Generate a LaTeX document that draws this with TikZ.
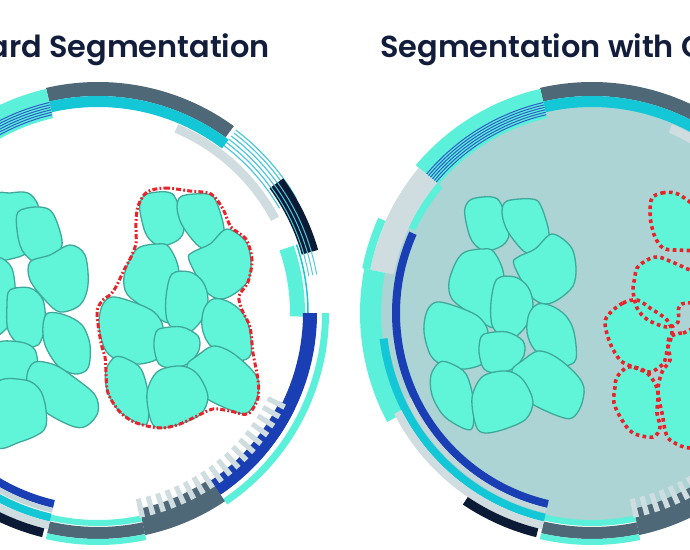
\documentclass[tikz,border=0pt]{standalone}
\usepackage{fontspec}
\setmainfont{Poppins}[BoldFont={Poppins SemiBold}]
\definecolor{navytext}{HTML}{111D3A}
\definecolor{slate}{HTML}{4E6877}
\definecolor{cyanb}{HTML}{14C7D7}
\definecolor{aqua}{HTML}{5AF0D9}
\definecolor{lgrey}{HTML}{CFDDE0}
\definecolor{lgreyb}{HTML}{C3D6D9}
\definecolor{blueb}{HTML}{1A3FB5}
\definecolor{lblue}{HTML}{2E5CC8}
\definecolor{navyb}{HTML}{0B1B36}
\definecolor{thincyan}{HTML}{50C8DC}
\definecolor{cellfill}{HTML}{60F5D8}
\definecolor{celledge}{HTML}{3EA99A}
\definecolor{disk}{HTML}{ACD4D4}
\definecolor{redl}{HTML}{E8232B}
\newcommand\rs[5]{\fill[#5] (#3:#2) arc[start angle=#3,end angle=#4,radius=#2] -- (#4:#1) arc[start angle=#4,end angle=#3,radius=#1] -- cycle;}
\newcommand\rl[4]{\draw[#4] (#2:#1) arc[start angle=#2,end angle=#3,radius=#1];}
\newcommand\ringpattern{%
  \rs{217}{231}{54}{103}{slate}
  \rs{206}{217}{53}{103}{cyanb}
  \rs{196}{205}{28}{67}{lgrey}
  \foreach \r in {209.5,213.5,217.5,221.5,225.5,229} {\rl{\r}{30}{53}{thincyan,line width=1.2bp}}
  \rs{212}{229}{16}{36}{navyb}
  \foreach \r in {214,218,222} {\rl{\r}{10}{36}{thincyan,line width=1bp}}
  \rs{192}{207}{-1}{19}{aqua}
  \rl{210}{-1}{19}{cyanb,line width=1.5bp}
  \rs{205}{219}{-56}{0}{blueb}
  \rs{202}{219}{-56}{-26}{blueb}
  \rs{224}{231}{-56}{0}{aqua}
  \rs{200}{227}{-78}{-56}{slate}
  \rs{214}{226}{-103}{-78}{slate}
  \rs{207}{213}{-103}{-78}{aqua}
  \rs{226}{232}{-103}{-78}{aqua}
  \foreach \i in {0,...,17}{\pgfmathsetmacro\ta{-26-3*\i}\pgfmathsetmacro\tb{-27.5-3*\i}\rs{190}{209}{\tb}{\ta}{lgrey}}
  \rs{200}{230}{103}{140}{aqua}
  \foreach \r in {203.5,206,208.5,211,213.5,216} {\rl{\r}{103}{140}{lblue,line width=1bp}}
  \rs{202}{226}{140}{169}{lgrey}
  \rs{195}{202}{140}{155}{aqua}
  \rs{226}{234}{156}{169}{aqua}
  \rs{211}{232}{169}{208}{aqua}
  \rs{192}{200}{156}{257}{blueb}
  \rs{206}{214}{187}{257}{cyanb}
  \rs{200}{205}{205}{257}{lgreyb}
  \rs{214}{222}{207}{257}{lgrey}
  \rs{222}{231}{236}{256}{navyb}
}
\tikzset{
  cell/.style={fill=cellfill,draw=celledge,line width=1.3bp,line join=round},
  rcell/.style={fill=cellfill},
  rdot/.style={draw=redl,line width=3.6bp,dash pattern=on 3.6bp off 3.4bp},
  rdash/.style={draw=redl,line width=3bp,dash pattern=on 5bp off 2.2bp on 1.8bp off 2.2bp},
  title/.style={anchor=base,inner sep=0pt,text=navytext,font=\fontsize{30.5}{36}\selectfont\bfseries}
}
\newcommand\sm{plot[smooth cycle,tension=0.55] coordinates}
\newcommand\clusterB{%
  \draw[cell] \sm{(147,194)(167,192)(176,199)(184,227)(178,240)(160,246)(147,236)(141,217)(140,203)};
  \draw[cell] \sm{(182,196)(207,194)(216,201)(224,230)(214,243)(202,248)(191,238)(181,223)(177,207)};
  \draw[cell] \sm{(140,247)(157,244)(169,247)(179,273)(171,318)(163,321)(146,309)(127,294)(124,277)(131,257)};
  \draw[cell] \sm{(193,252)(210,244)(227,229)(246,242)(251,263)(248,281)(234,294)(220,299)(206,291)(189,260)};
  \draw[cell] \sm{(172,274)(190,272)(203,282)(208,300)(201,321)(187,334)(176,331)(167,320)(166,297)};
  \draw[cell] \sm{(213,299)(227,301)(241,311)(249,327)(251,354)(240,361)(227,358)(209,344)(202,327)(204,309)};
  \draw[cell] \sm{(112,297)(133,302)(154,312)(163,327)(156,343)(158,358)(140,364)(120,361)(106,351)(99,327)(102,306)};
  \draw[cell] \sm{(163,328)(182,327)(198,336)(199,350)(189,363)(173,368)(159,364)(154,347)(156,332)};
  \draw[cell] \sm{(197,356)(213,346)(231,352)(251,369)(259,383)(256,401)(247,413)(233,411)(206,398)(191,380)(187,365)};
  \draw[cell] \sm{(115,357)(127,359)(141,369)(148,393)(148,421)(140,424)(119,411)(107,390)(106,370)};
  \draw[cell] \sm{(157,372)(177,366)(191,369)(201,379)(208,397)(201,414)(180,424)(160,428)(151,421)(147,393)};
}
\begin{document}
\begin{tikzpicture}[x=1bp,y=-1bp]
\useasboundingbox (0,0) rectangle (690,550);
\clip (0,0) rectangle (690,550);
\fill[white] (0,0) rectangle (690,550);
% titles
\node[title,anchor=base east] (t1) at (270,58) {ard Segmentation};
\node[title,anchor=base west] (t2) at (380,58) {Segmentation with C};
% right disk
\fill[disk] (592,313) circle[radius=212];
\begin{scope}[shift={(98,313)},yscale=-1] \ringpattern \end{scope}
\begin{scope}[shift={(592,313)},yscale=-1] \ringpattern \end{scope}
% left circle: left cluster
\draw[cell] \sm{(-5,198)(10,193)(28,193)(38,205)(40,225)(33,248)(15,258)(-5,255)};
\draw[cell] \sm{(18,212)(35,207)(50,210)(58,225)(62,245)(52,258)(35,262)(22,250)(17,230)};
\draw[cell] \sm{(30,262)(50,255)(70,245)(85,255)(88,285)(80,305)(60,312)(45,300)(30,280)};
\draw[cell] \sm{(-5,262)(10,265)(15,285)(14,315)(5,330)(-5,330)};
\draw[cell] \sm{(10,290)(30,288)(43,300)(45,325)(38,345)(20,345)(8,330)(7,305)};
\draw[cell] \sm{(48,313)(65,315)(82,325)(90,345)(88,368)(75,374)(58,366)(45,345)(43,325)};
\draw[cell] \sm{(-5,345)(20,342)(35,350)(37,372)(25,385)(5,385)(-5,383)};
\draw[cell] \sm{(35,362)(55,365)(75,378)(95,395)(98,412)(88,425)(75,427)(50,415)(30,397)(27,375)};
\draw[cell] \sm{(-5,385)(25,380)(40,390)(46,410)(44,430)(20,442)(-5,445)};
% left circle: right cluster with outline
\clusterB
\draw[rdash] plot[smooth cycle,tension=0.5] coordinates {(147,192)(165,188)(190,191)(211,194)(223,209)(231,227)(246,239)(252,260)(248,282)(239,296)(242,310)(250,327)(253,353)(258,380)(258,398)(248,414)(230,411)(213,409)(197,416)(180,424)(163,428)(147,426)(132,421)(119,411)(108,393)(106,372)(105,357)(101,343)(97,313)(102,301)(111,294)(117,285)(124,270)(131,257)(136,243)(136,223)(138,206)};
% right circle: left cluster
\begin{scope}[shift={(325,5)}] \clusterB \end{scope}
% right circle: red dotted cells
\fill[rcell] \sm{(652,198)(662,193)(675,193)(687,200)(700,213)(700,247)(677,250)(663,248)(655,237)(651,223)(650,212)};
\fill[rcell] \sm{(637,268)(647,260)(658,257)(672,262)(683,267)(700,277)(700,300)(680,305)(678,322)(667,327)(648,320)(637,308)(633,290)(635,277)};
\fill[rcell] \sm{(610,313)(623,303)(637,300)(650,308)(667,320)(672,333)(668,347)(665,360)(662,365)(650,372)(633,367)(620,360)(610,343)(605,323)};
\fill[rcell] \sm{(617,377)(628,367)(643,370)(653,380)(658,393)(657,413)(660,427)(653,437)(633,433)(622,420)(614,403)(615,387)};
\fill[rcell] \sm{(670,337)(683,333)(700,337)(700,440)(670,440)(662,413)(658,390)(662,372)(670,360)(668,347)};
\draw[rdot] \sm{(652,198)(662,193)(675,193)(687,200)(700,213)(700,247)(677,250)(663,248)(655,237)(651,223)(650,212)};
\draw[rdot] \sm{(637,268)(647,260)(658,257)(672,262)(683,267)(700,277)(700,300)(680,305)(678,322)(667,327)(648,320)(637,308)(633,290)(635,277)};
\draw[rdot] \sm{(610,313)(623,303)(637,300)(650,308)(667,320)(672,333)(668,347)(665,360)(662,365)(650,372)(633,367)(620,360)(610,343)(605,323)};
\draw[rdot] \sm{(617,377)(628,367)(643,370)(653,380)(658,393)(657,413)(660,427)(653,437)(633,433)(622,420)(614,403)(615,387)};
\draw[rdot] \sm{(670,337)(683,333)(700,337)(700,440)(670,440)(662,413)(658,390)(662,372)(670,360)(668,347)};
\end{tikzpicture}
\end{document}
